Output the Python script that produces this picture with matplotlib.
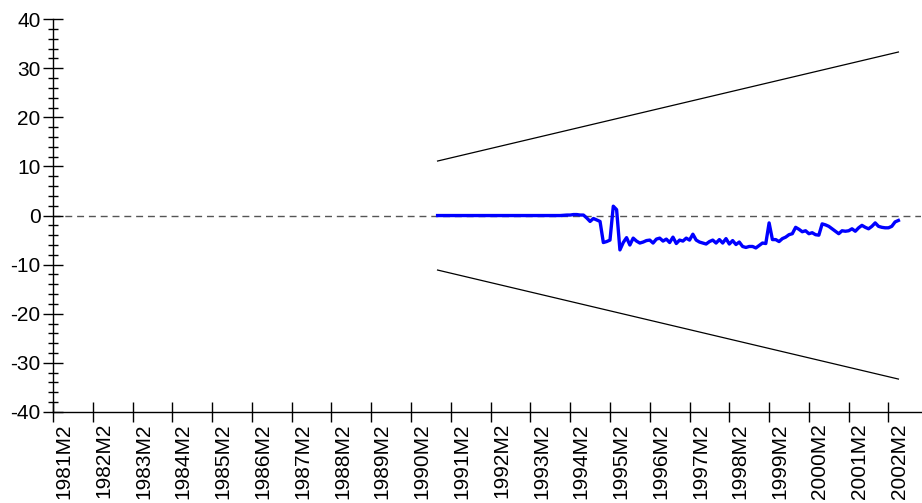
"""CUSUM stability test plot (EViews style) -> out.png"""
import matplotlib
matplotlib.use("Agg")
import matplotlib.pyplot as plt  # noqa: E402
from matplotlib.transforms import ScaledTranslation  # noqa: E402

# sample: 1990M10 .. 2002M5, monthly
START = (1990, 10)
CUSUM = (
    [0.0] * 38
    + [0.05, 0.1, 0.1, 0.2, 0.2, 0.1]
    + [0.1, -0.5, -1.2, -0.6, -0.9, -1.2, -5.5, -5.3, -5.0, 1.9, 1.2, -7.0,
       -5.5, -4.5, -6.0, -4.6, -5.2]
    + [-5.6, -5.4, -5.1, -5.0, -5.6, -4.8, -4.6, -5.2, -4.8, -5.5, -4.4, -5.7,
       -5.0, -5.2, -4.6, -5.0, -3.8, -5.0, -5.4, -5.6, -5.8, -5.3, -5.0, -5.6]
    + [-4.9, -5.6, -4.7, -5.8, -5.1, -5.9, -5.4, -6.3, -6.5, -6.3, -6.3, -6.6,
       -6.1, -5.6, -5.7, -1.5, -4.9, -4.9, -5.3, -4.7, -4.4, -3.9, -3.7, -2.4]
    + [-2.8, -3.3, -3.1, -3.7, -3.5, -3.9, -4.0, -1.7, -1.9, -2.2, -2.7, -3.2,
       -3.7, -3.1, -3.2, -3.1, -2.7, -3.2, -2.5, -2.0, -2.4, -2.7, -2.2, -1.5,
       -2.2, -2.4, -2.5, -2.5, -2.2, -1.3, -1.0]
)
# 5% significance bounds at first / last observation
UPPER = [11.1, 33.3]
LOWER = [-11.1, -33.3]
TICK_YEARS = list(range(1981, 2003))
TICK_LABELS = [f"{y}M2" for y in TICK_YEARS]


def month_index(year, month):
    """months since 1981M1"""
    return (year - 1981) * 12 + (month - 1)


x0 = month_index(*START)
xs = [x0 + i for i in range(len(CUSUM))]
ends = [xs[0], xs[-1]]

plt.rcParams["font.family"] = ["Liberation Sans", "DejaVu Sans"]
plt.rcParams["axes.unicode_minus"] = False
fig = plt.figure(figsize=(9.22, 5.03), dpi=100)
ax = fig.add_axes([0.0575, 0.181, 0.941, 0.781])

ax.axhline(0, color="#555555", lw=1.0, ls=(0, (5, 3.5)), zorder=1)
ax.plot(ends, UPPER, color="black", lw=0.9, zorder=2)
ax.plot(ends, LOWER, color="black", lw=0.9, zorder=2)
ax.plot(xs, CUSUM, color="#0000ff", lw=2.4, zorder=3)

ax.set_xlim(1, 262.7)
ax.set_ylim(-40, 40)
for s in ("top", "right"):
    ax.spines[s].set_visible(False)
for s in ("left", "bottom"):
    ax.spines[s].set_linewidth(1.0)

ax.set_yticks(range(-40, 41, 10))
ax.set_yticks(range(-40, 41, 2), minor=True)
ax.tick_params(axis="y", which="major", direction="inout", length=14, width=1.0,
               labelsize=15, pad=2)
ax.tick_params(axis="y", which="minor", direction="inout", length=6.5, width=1.0)

ax.set_xticks([month_index(y, 2) for y in TICK_YEARS])
ax.set_xticklabels(TICK_LABELS, rotation=90, va="top", ha="center")
ax.tick_params(axis="x", which="major", direction="inout", length=14, width=1.0,
               labelsize=15, pad=1)
shift = ScaledTranslation(0.11, 0, fig.dpi_scale_trans)
for lab in ax.get_xticklabels():
    lab.set_transform(lab.get_transform() + shift)

fig.savefig("out.png", dpi=100)
